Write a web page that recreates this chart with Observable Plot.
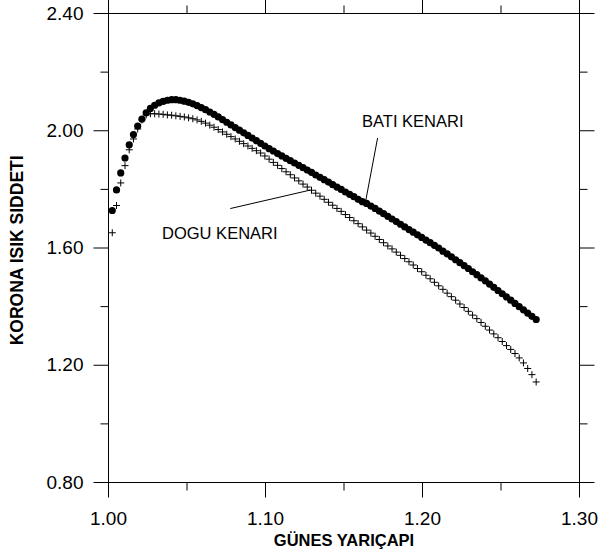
<!DOCTYPE html>
<html>
<head>
<meta charset="utf-8">
<script src="https://cdn.jsdelivr.net/npm/d3@7"></script>
<script src="https://cdn.jsdelivr.net/npm/@observablehq/plot@0.6"></script>
<style>
  html, body { margin: 0; padding: 0; background: #fff; }
  #chart svg { display: block; }
</style>
</head>
<body>
<div id="chart"></div>
<script>
// Güneş yarıçapı (x)
const radius = [
  1.0024, 1.0051, 1.0078, 1.0105, 1.0132, 1.0159, 1.0186, 1.0213, 1.0240, 1.0267,
  1.0294, 1.0321, 1.0348, 1.0375, 1.0402, 1.0429, 1.0456, 1.0483, 1.0510, 1.0537,
  1.0564, 1.0591, 1.0618, 1.0645, 1.0672, 1.0699, 1.0726, 1.0753, 1.0780, 1.0807,
  1.0834, 1.0861, 1.0888, 1.0915, 1.0942, 1.0969, 1.0996, 1.1023, 1.1050, 1.1077,
  1.1104, 1.1131, 1.1158, 1.1185, 1.1212, 1.1239, 1.1266, 1.1293, 1.1320, 1.1347,
  1.1374, 1.1401, 1.1428, 1.1455, 1.1482, 1.1509, 1.1536, 1.1563, 1.1590, 1.1617,
  1.1644, 1.1671, 1.1698, 1.1725, 1.1752, 1.1779, 1.1806, 1.1833, 1.1860, 1.1887,
  1.1914, 1.1941, 1.1968, 1.1995, 1.2022, 1.2049, 1.2076, 1.2103, 1.2130, 1.2157,
  1.2184, 1.2211, 1.2238, 1.2265, 1.2292, 1.2319, 1.2346, 1.2373, 1.2400, 1.2427,
  1.2454, 1.2481, 1.2508, 1.2535, 1.2562, 1.2589, 1.2616, 1.2643, 1.2670, 1.2697,
  1.2724
];
// BATI KENARI (dolu daireler)
const batiKenari = [
  1.728, 1.798, 1.856, 1.907, 1.952, 1.987, 2.016, 2.040, 2.061, 2.076,
  2.087, 2.095, 2.100, 2.104, 2.106, 2.106, 2.104, 2.101, 2.097, 2.092,
  2.086, 2.079, 2.072, 2.064, 2.056, 2.047, 2.038, 2.029, 2.020, 2.011,
  2.002, 1.993, 1.984, 1.975, 1.966, 1.957, 1.948, 1.939, 1.931, 1.922,
  1.914, 1.906, 1.898, 1.890, 1.882, 1.874, 1.866, 1.858, 1.849, 1.841,
  1.833, 1.825, 1.816, 1.808, 1.800, 1.791, 1.783, 1.775, 1.766, 1.758,
  1.752, 1.743, 1.735, 1.726, 1.717, 1.708, 1.699, 1.690, 1.681, 1.672,
  1.663, 1.654, 1.645, 1.636, 1.627, 1.618, 1.609, 1.600, 1.589, 1.580,
  1.570, 1.560, 1.550, 1.540, 1.530, 1.519, 1.509, 1.498, 1.488, 1.477,
  1.466, 1.455, 1.444, 1.433, 1.422, 1.411, 1.400, 1.389, 1.378, 1.367,
  1.356
];
// DOGU KENARI (artı işaretleri)
const doguKenari = [
  1.652, 1.745, 1.822, 1.881, 1.935, 1.972, 2.006, 2.037, 2.054, 2.058,
  2.058, 2.057, 2.056, 2.054, 2.053, 2.051, 2.049, 2.047, 2.044, 2.041,
  2.037, 2.032, 2.026, 2.019, 2.012, 2.004, 1.996, 1.988, 1.980, 1.972,
  1.964, 1.956, 1.948, 1.940, 1.932, 1.924, 1.914, 1.903, 1.892, 1.882,
  1.871, 1.860, 1.850, 1.839, 1.829, 1.818, 1.808, 1.797, 1.787, 1.777,
  1.766, 1.756, 1.746, 1.735, 1.725, 1.714, 1.704, 1.693, 1.683, 1.672,
  1.661, 1.651, 1.640, 1.629, 1.618, 1.607, 1.597, 1.586, 1.575, 1.564,
  1.553, 1.542, 1.530, 1.519, 1.507, 1.495, 1.483, 1.471, 1.459, 1.446,
  1.434, 1.422, 1.409, 1.397, 1.384, 1.371, 1.359, 1.346, 1.333, 1.320,
  1.307, 1.294, 1.281, 1.267, 1.254, 1.240, 1.225, 1.208, 1.189, 1.168,
  1.143
];
const xTicks = [1.00, 1.10, 1.20, 1.30];
const xMinorTicks = [1.05, 1.15, 1.25];
const yTicks = [0.80, 1.20, 1.60, 2.00, 2.40];
const yMinorTicks = [1.00, 1.40, 1.80, 2.20];
const seriesNames = ["BATI KENARI", "DOGU KENARI"];
const xLabel = "GÜNES YARIÇAPI";
const yLabel = "KORONA ISIK SIDDETI";

// Annotation anchors (data coordinates)
const labelAt = [
  {name: seriesNames[0], x: 1.1615, y: 2.0116},
  {name: seriesNames[1], x: 1.0341, y: 1.6313}
];
const leaders = [
  {x1: 1.1714, y1: 1.9755, x2: 1.1638, y2: 1.7601},
  {x1: 1.0776, y1: 1.7346, x2: 1.1285, y2: 1.7976}
];

const table = radius.map((r, i) => ({r, bati: batiKenari[i], dogu: doguKenari[i]}));

const thinPlus = {
  draw(ctx, size) {
    const h = Math.sqrt(size / Math.PI);
    ctx.moveTo(-h, 0); ctx.lineTo(h, 0);
    ctx.moveTo(0, -h); ctx.lineTo(0, h);
  }
};

// layout: axes box from (108,13) to (579,482) inside a 599x553 svg
const W = 599, H = 553;
const BOX = {left: 108, right: 579, top: 13, bottom: 482};
const xDom = [1.0, 1.3], yDom = [0.8, 2.4];
const pxX = (BOX.right - BOX.left) / (xDom[1] - xDom[0]);
const pxY = (BOX.bottom - BOX.top) / (yDom[1] - yDom[0]);
const MAJ = 15, MIN = 8;
const ox = px => px / pxX;   // pixel offset -> x units
const oy = px => px / pxY;   // pixel offset -> y units

const tickSegs = [
  ...xTicks.map(v => ({x1: v, x2: v, y1: yDom[0], y2: yDom[0] - oy(MAJ)})),
  ...xMinorTicks.map(v => ({x1: v, x2: v, y1: yDom[0], y2: yDom[0] - oy(MIN)})),
  ...xTicks.map(v => ({x1: v, x2: v, y1: yDom[1], y2: yDom[1] + oy(MAJ)})),
  ...xMinorTicks.map(v => ({x1: v, x2: v, y1: yDom[1], y2: yDom[1] + oy(MIN)})),
  ...yTicks.map(v => ({y1: v, y2: v, x1: xDom[0], x2: xDom[0] - ox(MAJ)})),
  ...yMinorTicks.map(v => ({y1: v, y2: v, x1: xDom[0], x2: xDom[0] - ox(MIN)})),
  ...yTicks.map(v => ({y1: v, y2: v, x1: xDom[1], x2: xDom[1] + ox(MAJ)})),
  ...yMinorTicks.map(v => ({y1: v, y2: v, x1: xDom[1], x2: xDom[1] + ox(MIN)}))
];
const boxSegs = [
  {x1: xDom[0], x2: xDom[1], y1: yDom[0], y2: yDom[0]},
  {x1: xDom[0], x2: xDom[1], y1: yDom[1], y2: yDom[1]},
  {x1: xDom[0], x2: xDom[0], y1: yDom[0], y2: yDom[1]},
  {x1: xDom[1], x2: xDom[1], y1: yDom[0], y2: yDom[1]}
];
const xTickLabels = xTicks.map(v => ({x: v, y: yDom[0] - oy(29)}));
const yTickLabels = yTicks.map(v => ({x: xDom[0] - ox(25), y: v}));
const xTitleAt = [{name: xLabel, x: (xDom[0] + xDom[1]) / 2, y: yDom[0] - oy(63)}];
const yTitleAt = [{name: yLabel, x: xDom[0] - ox(91.5), y: 1.592}];

const fmt = d3.format(".2f");
const font = "'Liberation Sans', Arial, sans-serif";

const chart = Plot.plot({
  width: W,
  height: H,
  margin: 0,
  style: {fontFamily: font, fontSize: "19px", background: "#fff", color: "#000"},
  x: {domain: xDom, range: [BOX.left, BOX.right], axis: null},
  y: {domain: yDom, range: [BOX.bottom, BOX.top], axis: null},
  marks: [
    Plot.link(boxSegs, {x1: "x1", y1: "y1", x2: "x2", y2: "y2", stroke: "#000", strokeWidth: 1}),
    Plot.link(tickSegs, {x1: "x1", y1: "y1", x2: "x2", y2: "y2", stroke: "#000", strokeWidth: 1}),
    // tick labels
    Plot.text(xTickLabels, {x: "x", y: "y", text: d => fmt(d.x), textAnchor: "middle", lineAnchor: "top", fontSize: 19, fill: "#000"}),
    Plot.text(yTickLabels, {x: "x", y: "y", text: d => fmt(d.y), textAnchor: "end", lineAnchor: "middle", fontSize: 19, fill: "#000"}),
    // data
    Plot.dot(table, {x: "r", y: "dogu", symbol: thinPlus, r: 3.5, fill: "none", stroke: "#000", strokeWidth: 1}),
    Plot.dot(table, {x: "r", y: "bati", r: 3.6, fill: "#000", stroke: "none"}),
    // annotations
    Plot.link(leaders, {x1: "x1", y1: "y1", x2: "x2", y2: "y2", stroke: "#000", strokeWidth: 1}),
    Plot.text(labelAt, {x: "x", y: "y", text: "name", textAnchor: "start", lineAnchor: "bottom", fontSize: 16.5, fill: "#000"}),
    Plot.text(xTitleAt, {x: "x", y: "y", text: "name", textAnchor: "middle", lineAnchor: "bottom", fontSize: 16.5, fontWeight: "bold", fill: "#000"}),
    Plot.text(yTitleAt, {x: "x", y: "y", text: "name", rotate: -90, textAnchor: "middle", lineAnchor: "middle", fontSize: 17.5, fontWeight: "bold", fill: "#000"})
  ]
});

document.getElementById("chart").appendChild(chart);
</script>
</body>
</html>
